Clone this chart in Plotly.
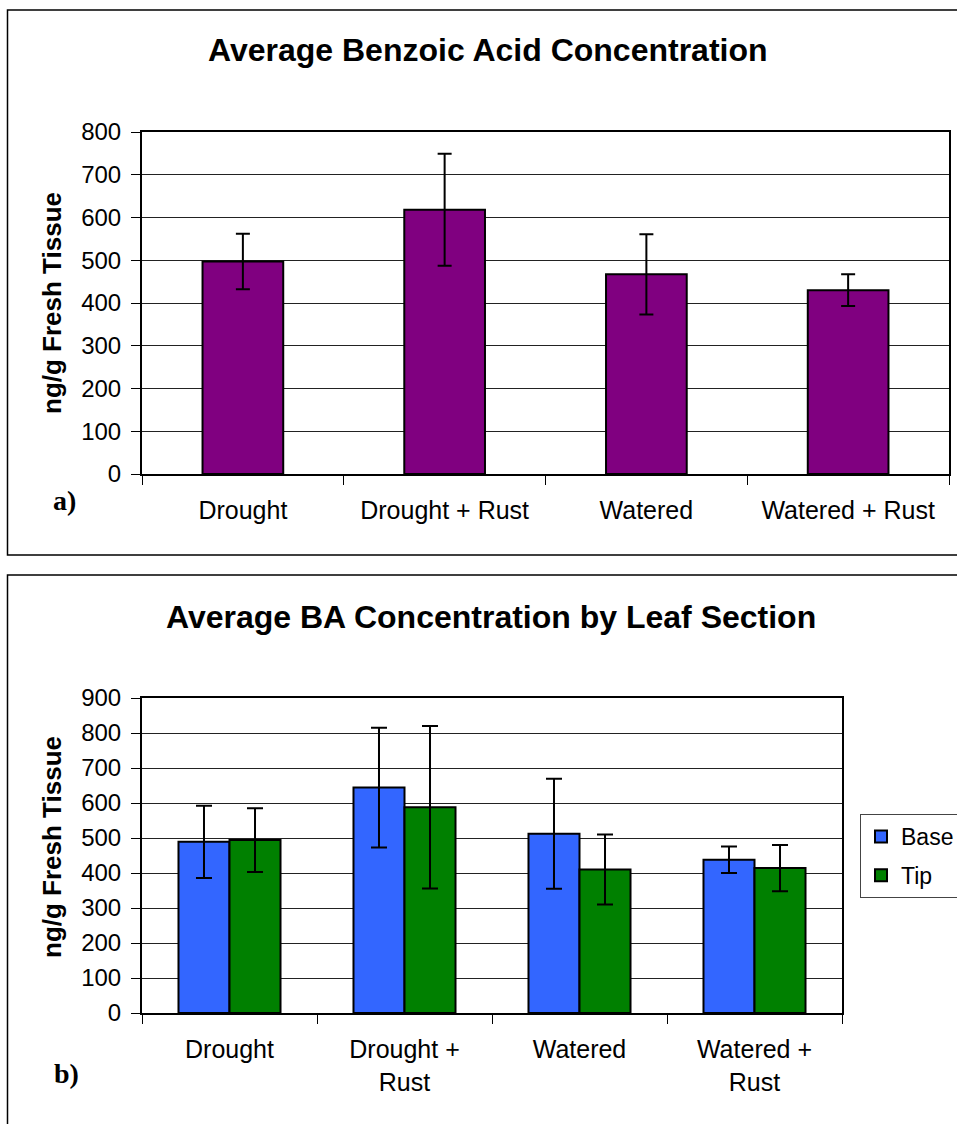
import plotly.graph_objects as go

# ---- data ----
top_categories = ["Drought", "Drought + Rust", "Watered", "Watered + Rust"]
top_values = [497, 618, 467, 430]
top_errors = [65, 131, 94, 37]

bottom_categories = ["Drought", "Drought +<br>Rust", "Watered", "Watered +<br>Rust"]
base_values = [489, 644, 512, 438]
base_errors = [103, 171, 157, 38]
tip_values = [494, 588, 410, 414]
tip_errors = [91, 232, 100, 66]

top_title = "Average Benzoic Acid Concentration"
bottom_title = "Average BA Concentration by Leaf Section"
y_title = "ng/g Fresh Tissue"

W, H = 957, 1124
FONT = "Liberation Sans, Arial, sans-serif"
SERIF = "Liberation Serif, Times New Roman, serif"

def px(x):
    return x / W

def py(y):
    return 1 - y / H

fig = go.Figure()

fig.add_trace(go.Bar(
    x=top_categories, y=top_values, xaxis="x", yaxis="y",
    width=0.4, offset=-0.2,
    marker=dict(color="#800080", line=dict(color="black", width=2)),
    error_y=dict(type="data", array=top_errors, color="black", thickness=2, width=7),
    showlegend=False,
))
fig.add_trace(go.Bar(
    x=bottom_categories, y=base_values, xaxis="x2", yaxis="y2", name="Base",
    legendgroup="base",
    marker=dict(color="#3366FF", line=dict(color="black", width=2)),
    error_y=dict(type="data", array=base_errors, color="black", thickness=2, width=8),
))
fig.add_trace(go.Bar(
    x=bottom_categories, y=tip_values, xaxis="x2", yaxis="y2", name="Tip",
    legendgroup="tip",
    marker=dict(color="#008000", line=dict(color="black", width=2)),
    error_y=dict(type="data", array=tip_errors, color="black", thickness=2, width=8),
))

axis_common = dict(
    showline=True, linecolor="black", linewidth=2, mirror=True,
    ticks="outside", tickcolor="black", ticklen=9, tickwidth=1,
    zeroline=False, automargin=False,
)
xfont = dict(family=FONT, size=25, color="black")
yfont = dict(family=FONT, size=24, color="black")

fig.update_layout(
    width=W, height=H,
    margin=dict(l=0, r=0, t=0, b=0, pad=0, autoexpand=False),
    paper_bgcolor="white", plot_bgcolor="white",
    barmode="group", bargap=0.417, bargroupgap=0,
    font=dict(family=FONT, color="black"),
    xaxis=dict(domain=[px(142), px(949)], anchor="y", type="category",
               tickson="boundaries", showgrid=False, ticklabelstandoff=13,
               tickfont=xfont, **axis_common),
    yaxis=dict(domain=[py(474), py(132)], anchor="x", range=[0, 800], dtick=100,
               showgrid=True, gridcolor="#222222", gridwidth=1, ticklabelstandoff=5,
               tickfont=yfont, **axis_common),
    xaxis2=dict(domain=[px(142), px(842)], anchor="y2", type="category",
                tickson="boundaries", showgrid=False, ticklabelstandoff=13,
                tickfont=xfont, **axis_common),
    yaxis2=dict(domain=[py(1013), py(698)], anchor="x2", range=[0, 900], dtick=100,
                showgrid=True, gridcolor="#222222", gridwidth=1, ticklabelstandoff=5,
                tickfont=yfont, **axis_common),
    legend=dict(x=px(860), y=py(814), xanchor="left", yanchor="top",
                bordercolor="#444444", borderwidth=1, bgcolor="white",
                font=dict(family=FONT, size=23, color="black"),
                tracegroupgap=6, itemwidth=30),
    shapes=[
        dict(type="rect", xref="paper", yref="paper", x0=px(7.5), x1=1.05, y0=py(555), y1=py(10),
             line=dict(color="black", width=1.5), layer="below"),
        dict(type="rect", xref="paper", yref="paper", x0=px(7.5), x1=1.05, y0=-0.05, y1=py(575),
             line=dict(color="black", width=1.5), layer="below"),
    ],
    annotations=[
        dict(text="<b>" + top_title + "</b>", x=px(488), y=py(50), xref="paper", yref="paper",
             xanchor="center", yanchor="middle",
             showarrow=False, font=dict(family=FONT, size=32, color="black")),
        dict(text="<b>" + bottom_title + "</b>", x=px(491), y=py(617), xref="paper", yref="paper",
             xanchor="center", yanchor="middle",
             showarrow=False, font=dict(family=FONT, size=32, color="black")),
        dict(text="<b>" + y_title + "</b>", x=px(52), y=py(303), xref="paper", yref="paper",
             xanchor="center", yanchor="middle",
             showarrow=False, textangle=-90, font=dict(family=FONT, size=26, color="black")),
        dict(text="<b>" + y_title + "</b>", x=px(52), y=py(847), xref="paper", yref="paper",
             xanchor="center", yanchor="middle",
             showarrow=False, textangle=-90, font=dict(family=FONT, size=26, color="black")),
        dict(text="<b>a)</b>", x=px(64), y=py(501), xref="paper", yref="paper",
             xanchor="center", yanchor="middle",
             showarrow=False, font=dict(family=SERIF, size=28, color="black")),
        dict(text="<b>b)</b>", x=px(66), y=py(1073), xref="paper", yref="paper",
             xanchor="center", yanchor="middle",
             showarrow=False, font=dict(family=SERIF, size=28, color="black")),
    ],
)

fig.write_html(
    "out.html",
    config={"displayModeBar": False},
    post_script="document.body.style.margin='0px'; document.body.style.overflow='hidden';",
)
